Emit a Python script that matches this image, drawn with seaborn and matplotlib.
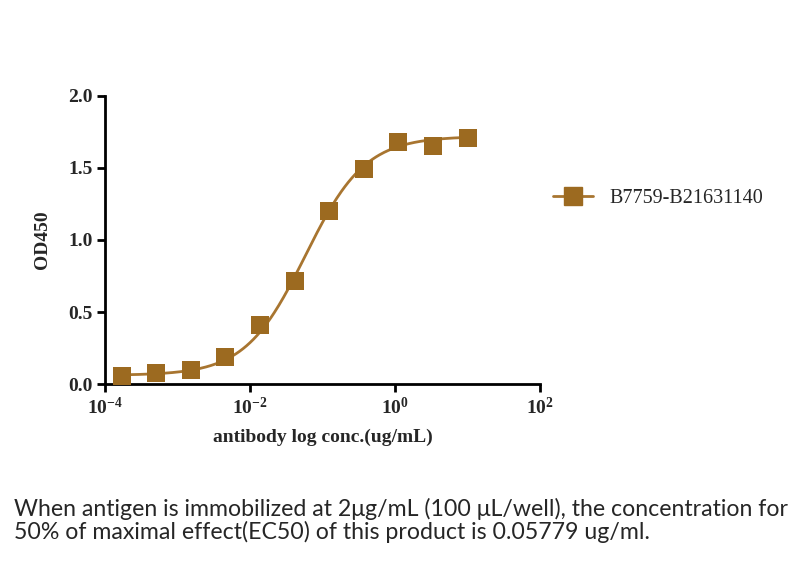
import numpy as np
import matplotlib
matplotlib.use("Agg")
import matplotlib.pyplot as plt
import seaborn as sns

# data (3-fold dilution series, ug/mL)
conc = [0.000169, 0.000508, 0.00152, 0.00457, 0.0137, 0.0412, 0.123, 0.370, 1.11, 3.33, 10.0]
od450 = [0.053, 0.074, 0.10, 0.185, 0.41, 0.715, 1.20, 1.49, 1.68, 1.655, 1.71]
sample = "B7759-B21631140"

# 4PL fit parameters (EC50 from the caption)
bottom = 0.06
top = 1.72
ec50 = 0.05779
hill = 1.05

color = "#9C6A20"

sns.set_theme(style="ticks")
plt.rcParams["font.family"] = ["Liberation Serif", "DejaVu Serif"]
plt.rcParams["mathtext.fontset"] = "custom"
plt.rcParams["mathtext.rm"] = "Liberation Serif:bold"
plt.rcParams["mathtext.bf"] = "Liberation Serif:bold"
plt.rcParams["mathtext.default"] = "bf"

fig = plt.figure(figsize=(7.98, 5.61), dpi=100)
ax = fig.add_axes([0.1316, 0.3155, 0.5451, 0.5134])

xfit = np.logspace(np.log10(conc[0]), np.log10(conc[-1]), 300)
yfit = bottom + (top - bottom) / (1 + (ec50 / xfit) ** hill)
sns.lineplot(x=xfit, y=yfit, ax=ax, color="#A87530", linewidth=2, legend=False)
sns.scatterplot(x=conc, y=od450, ax=ax, marker="s", s=160, color=color,
                edgecolor=color, linewidth=0, zorder=3, legend=False)

ax.set_xscale("log")
ax.set_xlim(1e-4, 1e2)
ax.set_ylim(0, 2.0)
ax.set_xticks([1e-4, 1e-2, 1e0, 1e2])
ax.set_xticklabels(["10$^{-4}$", "10$^{-2}$", "10$^{0}$", "10$^{2}$"])
ax.xaxis.set_minor_locator(matplotlib.ticker.NullLocator())
ax.set_yticks([0, 0.5, 1.0, 1.5, 2.0])
ax.set_yticklabels(["0.0", "0.5", "1.0", "1.5", "2.0"])

for s in ["top", "right"]:
    ax.spines[s].set_visible(False)
for s in ["left", "bottom"]:
    ax.spines[s].set_linewidth(2)
    ax.spines[s].set_color("black")
ax.tick_params(axis="both", width=2, length=6, color="black", labelsize=14, pad=3)
for lab in ax.get_xticklabels() + ax.get_yticklabels():
    lab.set_fontweight("bold")

ax.set_xlabel("antibody log conc.(ug/mL)", fontsize=14, fontweight="bold", labelpad=8)
ax.set_ylabel("OD450", fontsize=14, fontweight="bold", labelpad=12)

handle = matplotlib.lines.Line2D([], [], color="#A87530", linewidth=2, marker="s",
                                 markersize=12.5, markerfacecolor=color, markeredgecolor=color)
fig.legend([handle], [sample], loc="center left", bbox_to_anchor=(0.67, 0.647),
           frameon=False, fontsize=14.5, handlelength=2.0, handletextpad=0.8)

fig.text(0.018, 0.113,
         "When antigen is immobilized at 2\u03bcg/mL (100 \u03bcL/well), the concentration for\n"
         "50% of maximal effect(EC50) of this product is 0.05779 ug/ml.",
         fontsize=16.7, family=["Lato", "DejaVu Sans"], linespacing=1.05, va="top")

fig.savefig("out.png", dpi=100)
